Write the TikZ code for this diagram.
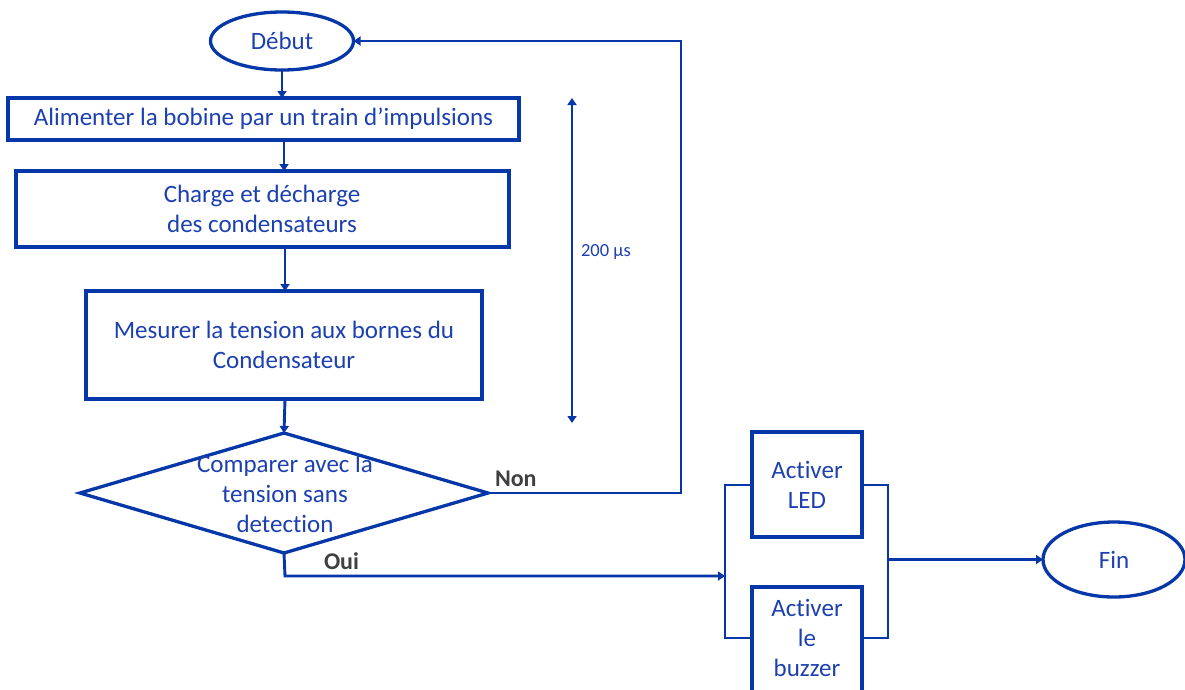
\documentclass[tikz,border=0pt]{standalone}
\usepackage{fontspec}
\setmainfont[Ligatures={NoCommon}]{Carlito}
\usetikzlibrary{arrows.meta,shapes.geometric}
\definecolor{lineblue}{RGB}{5,55,168}
\definecolor{textblue}{RGB}{28,64,176}
\definecolor{labelgrey}{RGB}{64,64,64}
\begin{document}
\begin{tikzpicture}[x=1pt,y=-1pt,
  every node/.style={inner sep=0pt,outer sep=0pt},
  box/.style={draw=lineblue,line width=3.3pt,rectangle,text=textblue,font=\fontsize{25}{30}\selectfont,align=center},
  term/.style={draw=lineblue,line width=3.3pt,ellipse,text=textblue,font=\fontsize{25}{30}\selectfont},
  txt/.style={text=textblue,font=\fontsize{25}{30}\selectfont,align=center},
  lbl/.style={text=labelgrey,font=\fontsize{24}{28}\selectfont\bfseries},
  conn/.style={draw=lineblue,line width=2.9pt},
  arr/.style={conn,-{Triangle[length=7pt,width=9pt]}},
]
\useasboundingbox (0,0) rectangle (1185,689);
\begin{scope}
\clip (0,0) rectangle (1185,689);
% nodes
\node[term,minimum width=143pt,minimum height=58pt] (debut) at (282,41) {Début};
\node[box,minimum width=511pt,minimum height=42pt] (b1) at (263.5,119) {Alimenter la bobine par un train d’impulsions};
\node[box,minimum width=493pt,minimum height=76pt] (b2) at (262.5,209) {};
\node[txt] at (262,209) {Charge et décharge\\des condensateurs};
\node[box,minimum width=396pt,minimum height=108pt] (b3) at (284,345) {};
\node[txt] at (284,345) {Mesurer la tension aux bornes du\\Condensateur};
\node[draw=lineblue,line width=3.3pt,diamond,aspect=3.4,minimum width=408pt,minimum height=120pt,inner sep=0pt] (dec) at (284,493) {};
\node[txt] at (285,494) {Comparer avec la\\tension sans\\detection};
\node[box,minimum width=110pt,minimum height=105pt] (led) at (807,484.5) {};
\node[txt] at (807,484.5) {Activer\\LED};
\node[box,minimum width=110pt,minimum height=120pt] (buz) at (807,647) {};
\node[txt] at (807,638) {Activer\\le\\buzzer};
\node[term,minimum width=142pt,minimum height=75pt] (fin) at (1114,559.5) {Fin};
\coordinate (nonc) at (681,493);
\coordinate (ouic) at (285,576);
\coordinate (busL) at (725,576);
\coordinate (busR) at (888,559.5);
\coordinate (t1) at (572,98);
\coordinate (t2) at (572,423);
% connectors
\draw[arr] (debut.south) -- (b1.north -| debut.south);
\draw[arr] (b1.south -| 284,0) -- (b2.north -| 284,0);
\draw[arr] (b2.south -| 285,0) -- (b3.north -| 285,0);
\draw[arr] (b3.south -| 285,0) -- (dec.north);
\draw[arr] (dec.east) -- (nonc) |- (debut.east);
\draw[arr] (dec.south) -- (ouic) -- (busL);
\draw[conn] (led.west |- 0,485) -| (725,638) -- (buz.west |- 0,638);
\draw[conn] (led.east |- 0,485) -| (888,638) -- (buz.east |- 0,638);
\draw[arr] (busR) -- (fin.west);
\draw[conn,{Triangle[length=7pt,width=9pt]}-{Triangle[length=7pt,width=9pt]}] (t1) -- (t2);
% labels
\node[lbl,anchor=west] (non) at (495,479) {Non};
\node[lbl,anchor=west] (oui) at (324,561) {Oui};
\node[text=textblue,font=\fontsize{18.5}{22}\selectfont,anchor=west] (tl) at (581,252) {200 µs};
\end{scope}
\end{tikzpicture}
\end{document}
